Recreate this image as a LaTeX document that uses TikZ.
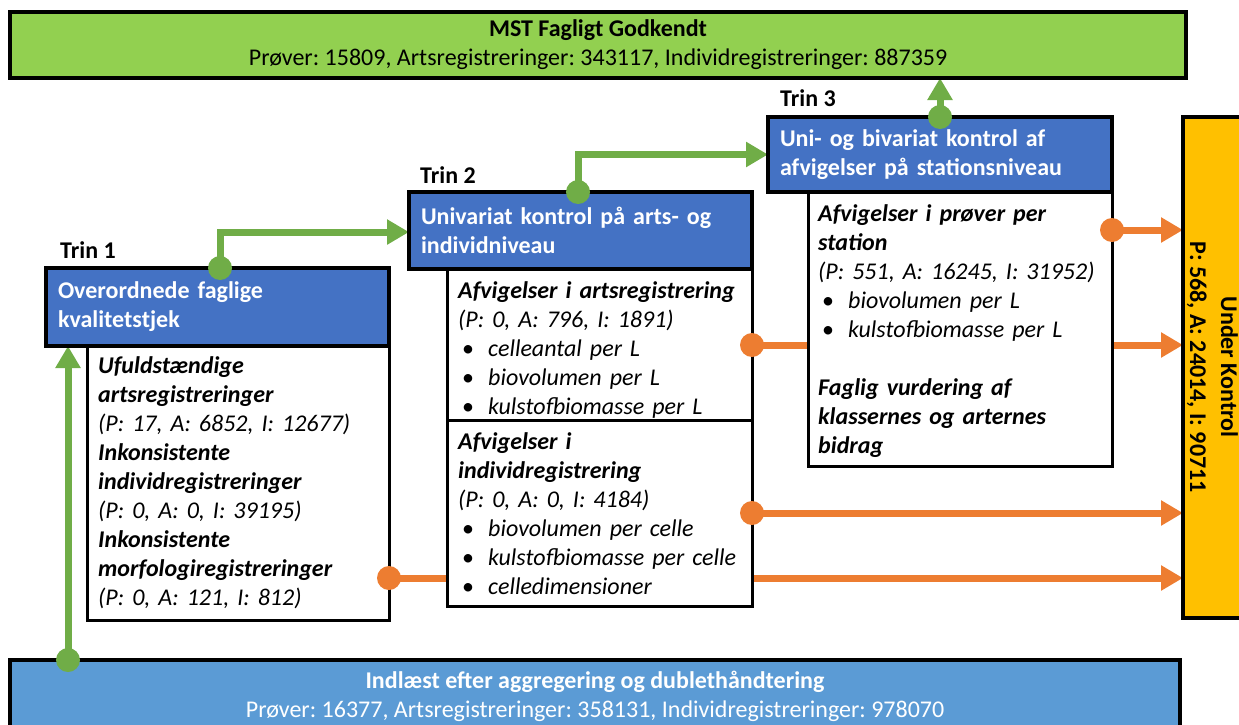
\documentclass[tikz,border=0pt]{standalone}
\usepackage{fontspec}
\setmainfont{Carlito}
\usetikzlibrary{arrows.meta,calc}
\definecolor{hdrblue}{HTML}{4472C4}
\definecolor{topgreen}{HTML}{92D050}
\definecolor{botblue}{HTML}{5B9BD5}
\definecolor{ukyellow}{HTML}{FFC000}
\definecolor{lgreen}{HTML}{70AD47}
\definecolor{lorange}{HTML}{ED7D31}
\pgfdeclarelayer{back}
\pgfsetlayers{back,main}
\frenchspacing
\newcommand\myBul[1]{\hspace*{4pt}\makebox[26pt][l]{\upshape\textbullet}#1}
\newcommand\bi[1]{\textbf{\textit{#1}}}
\begin{document}
\begin{tikzpicture}[x=1pt,y=-1pt,
  fnt/.style={font=\fontsize{24}{29}\selectfont},
  boxst/.style={draw=black, anchor=north west, inner sep=0pt, outer sep=0pt},
  hdr/.style={boxst, fill=hdrblue, line width=3.5pt, text=white,
     font=\bfseries\fontsize{24}{29}\selectfont, align=left, inner xsep=12pt},
  bodyst/.style={boxst, fill=white, line width=3pt},
  btext/.style={fnt, anchor=north west, inner sep=0pt, align=left, text width=290pt},
  trin/.style={font=\bfseries\fontsize{24}{29}\selectfont, anchor=west, inner sep=0pt},
  gline/.style={draw=lgreen, line width=7pt},
  oline/.style={draw=lorange, line width=7pt},
  garrow/.style={gline, -{Triangle[width=24pt,length=22pt]}},
  oarrow/.style={oline, -{Triangle[width=24pt,length=22pt]}},
  gdot/.style={circle, fill=lgreen, minimum size=24pt, inner sep=0pt},
  odot/.style={circle, fill=lorange, minimum size=24pt, inner sep=0pt}]
\useasboundingbox (0,0) rectangle (1239,725);

% top and bottom boxes
\node[boxst, fill=topgreen, line width=4pt, minimum width=1176pt, minimum height=66pt,
      fnt, align=center] (top) at (10,12)
  {\textbf{MST Fagligt Godkendt}\\Prøver: 15809, Artsregistreringer: 343117, Individregistreringer: 887359};
\node[boxst, fill=botblue, line width=3.5pt, minimum width=1170pt, minimum height=90pt] (bot) at (10,660) {};
\node[fnt, text=white, align=center, inner sep=0pt] (bottxt) at (595,696)
  {\textbf{Indlæst efter aggregering og dublethåndtering}\\Prøver: 16377, Artsregistreringer: 358131, Individregistreringer: 978070};

% Under Kontrol
\node[boxst, fill=ukyellow, line width=3.5pt, minimum width=90pt, minimum height=501pt] (uk) at (1183,117) {};
\node[font=\bfseries\fontsize{24}{31}\selectfont, align=center, rotate=-90, inner sep=0pt] (uktxt) at (1212.5,367)
  {Under Kontrol\\P: 568, A: 24014, I: 90711};

% Trin 1
\node[trin] (trin1) at (60,250) {Trin 1};
\node[bodyst, minimum width=302pt, minimum height=274pt] (t1b) at (87,346) {};
\node[hdr, minimum width=343pt, minimum height=78pt, text width=319pt] (t1h) at (46,268)
  {Overordnede faglige\\kvalitetstjek};
\node[btext] (t1txt) at (98,354)
  {\rule{0pt}{19pt}\bi{Ufuldstændige}\\
   \bi{artsregistreringer}\\
   \textit{(P: 17, A: 6852, I: 12677)}\\
   \bi{Inkonsistente}\\
   \bi{individregistreringer}\\
   \textit{(P: 0, A: 0, I: 39195)}\\
   \bi{Inkonsistente}\\
   \bi{morfologiregistreringer}\\
   \textit{(P: 0, A: 121, I: 812)}};

% Trin 2
\node[trin] (trin2) at (420,175) {Trin 2};
\node[bodyst, minimum width=305pt, minimum height=151pt] (t2u) at (447,269) {};
\node[bodyst, minimum width=305pt, minimum height=186pt] (t2l) at (447,420) {};
\node[hdr, minimum width=343pt, minimum height=77pt, text width=319pt] (t2h) at (409,192)
  {Univariat kontrol på arts- og\\individniveau};
\node[btext] (t2utxt) at (458,279)
  {\rule{0pt}{19pt}\bi{Afvigelser i artsregistrering}\\
   \textit{(P: 0, A: 796, I: 1891)}\\
   \myBul{\textit{celleantal per L}}\\
   \myBul{\textit{biovolumen per L}}\\
   \myBul{\textit{kulstofbiomasse per L}}};
\node[btext] (t2ltxt) at (458,430)
  {\rule{0pt}{19pt}\bi{Afvigelser i}\\
   \bi{individregistrering}\\
   \textit{(P: 0, A: 0, I: 4184)}\\
   \myBul{\textit{biovolumen per celle}}\\
   \myBul{\textit{kulstofbiomasse per celle}}\\
   \myBul{\textit{celledimensioner}}};

% Trin 3
\node[trin] (trin3) at (780,98) {Trin 3};
\node[bodyst, minimum width=304pt, minimum height=274pt] (t3b) at (808,192) {};
\node[hdr, minimum width=344pt, minimum height=75pt, text width=320pt] (t3h) at (768,117)
  {Uni- og bivariat kontrol af\\afvigelser på stationsniveau};
\node[btext] (t3txt) at (818,202)
  {\rule{0pt}{19pt}\bi{Afvigelser i prøver per}\\
   \bi{station}\\
   \textit{(P: 551, A: 16245, I: 31952)}\\
   \myBul{\textit{biovolumen per L}}\\
   \myBul{\textit{kulstofbiomasse per L}}\\[29pt]
   \bi{Faglig vurdering af}\\
   \bi{klassernes og arternes}\\
   \bi{bidrag}};

% dots
\node[gdot] (gd1) at (68,660) {};
\node[gdot] (gd2) at (220,268) {};
\node[gdot] (gd3) at (578,192) {};
\node[gdot] (gd4) at (940,117) {};
\node[odot] (od1) at (389,578) {};
\node[odot] (od2) at (752,345) {};
\node[odot] (od3) at (1112,230) {};
\node[odot] (od4) at (752,513) {};

\begin{pgfonlayer}{back}
\draw[garrow] (gd1.center) -- (gd1.center |- t1h.south);
\draw[garrow] (gd2.center) |- ($(t2h.north west)!0.52!(t2h.south west)$);
\draw[garrow] (gd3.center) |- ($(t3h.north west)!0.5!(t3h.south west)$);
\draw[garrow] (gd4.center) -- (gd4.center |- top.south);
\draw[oarrow] (od1.center) -- (od1.center -| uk.west);
\draw[oarrow] (od2.center) -- (od2.center -| uk.west);
\draw[oarrow] (od3.center) -- (od3.center -| uk.west);
\draw[oarrow] (od4.center) -- (od4.center -| uk.west);
\end{pgfonlayer}
\end{tikzpicture}
\end{document}
